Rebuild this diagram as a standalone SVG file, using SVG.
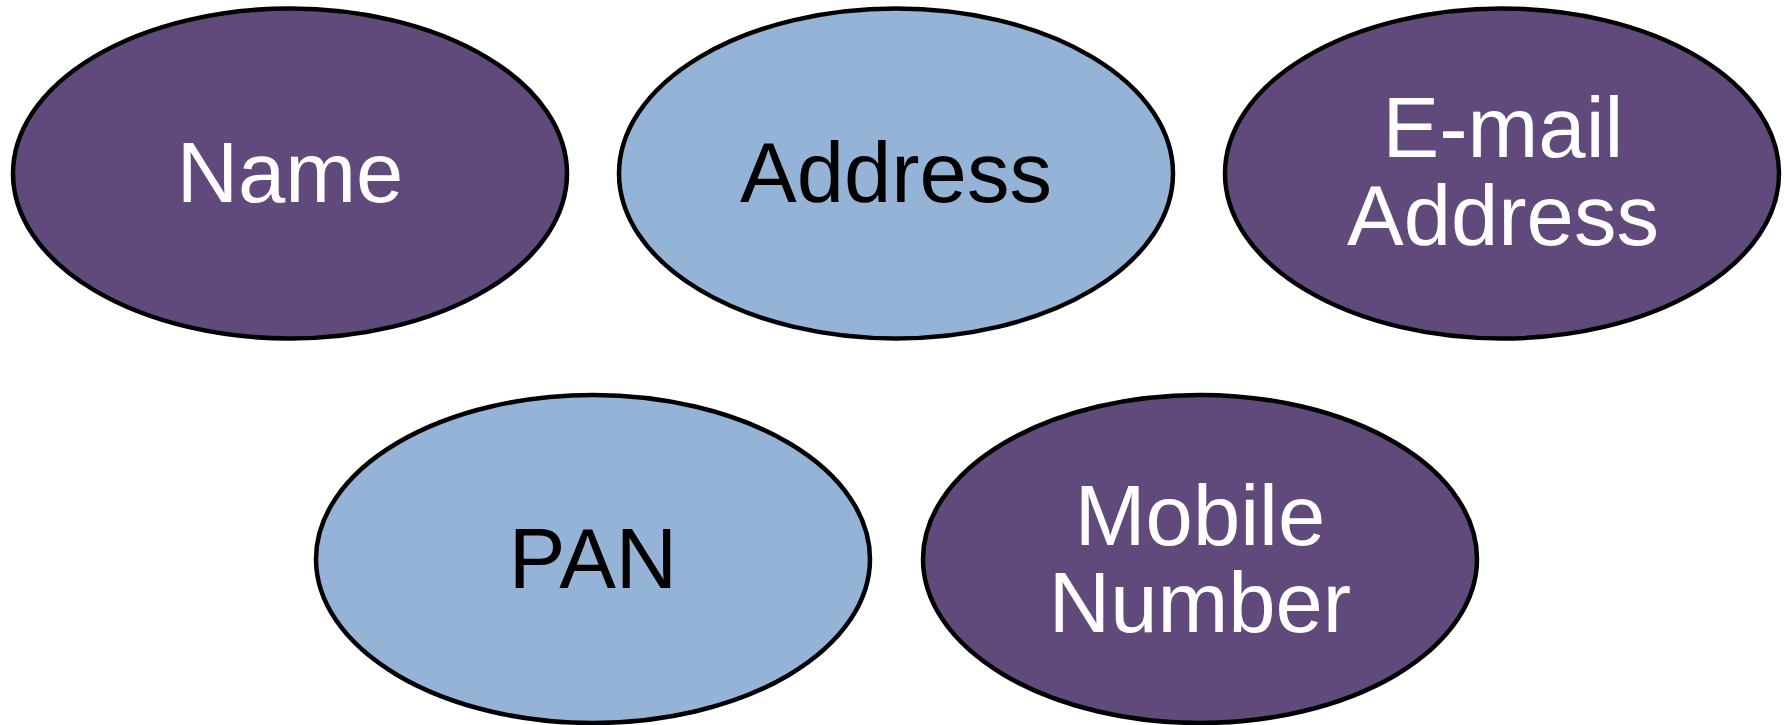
<svg xmlns="http://www.w3.org/2000/svg" width="1785" height="725" viewBox="0 0 1785 725">
<style>
.n ellipse{stroke:#000;stroke-width:4.5}
.p ellipse{fill:#604A7B}
.b ellipse{fill:#95B3D7}
text{font-family:"Liberation Sans",Arial,sans-serif;font-size:85px;text-anchor:middle}
.p text{fill:#fff}
.b text{fill:#000}
</style>
<rect width="1785" height="725" fill="#fff"/>
<g id="connectors"></g>
<g id="name" class="n p"><ellipse cx="290" cy="173.5" rx="277" ry="165"/><text x="290" y="202">Name</text></g>
<g id="address" class="n b"><ellipse cx="896" cy="173.5" rx="277" ry="165"/><text x="896" y="202">Address</text></g>
<g id="email" class="n p"><ellipse cx="1502" cy="173.5" rx="277" ry="165"/><text x="1503" y="157">E-mail</text><text x="1503" y="245">Address</text></g>
<g id="pan" class="n b"><ellipse cx="593" cy="559" rx="277" ry="164"/><text x="593" y="588">PAN</text></g>
<g id="mobile" class="n p"><ellipse cx="1200" cy="559" rx="277" ry="164"/><text x="1200" y="545">Mobile</text><text x="1200" y="632">Number</text></g>
</svg>
